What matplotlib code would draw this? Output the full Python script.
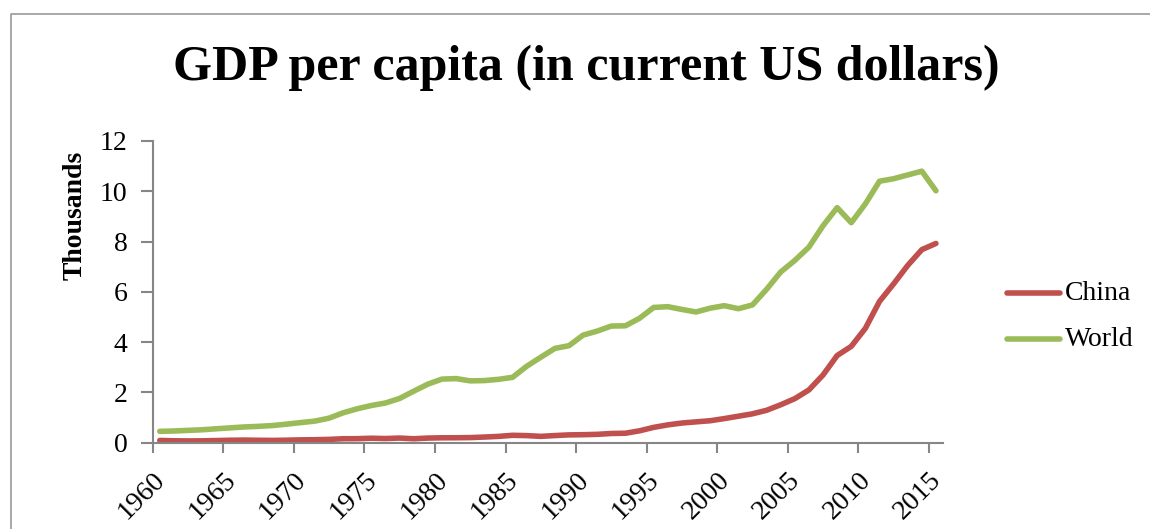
import matplotlib
matplotlib.use("Agg")
import matplotlib.pyplot as plt
from matplotlib.lines import Line2D
import numpy as np

years = list(range(1960, 2016))
china = [90, 76, 70, 74, 85, 98, 104, 97, 91, 100,
         113, 119, 132, 157, 160, 178, 165, 185, 156, 184,
         195, 197, 203, 225, 251, 294, 282, 252, 284, 311,
         318, 333, 366, 377, 473, 610, 709, 782, 829, 873,
         959, 1053, 1149, 1289, 1509, 1753, 2099, 2694, 3468, 3832,
         4550, 5618, 6317, 7051, 7679, 7925]
world = [452, 466, 490, 514, 554, 590, 627, 650, 683, 739,
         800, 860, 977, 1190, 1350, 1480, 1580, 1760, 2050, 2330,
         2530, 2550, 2460, 2470, 2520, 2600, 3040, 3400, 3750, 3860,
         4280, 4440, 4640, 4650, 4950, 5380, 5410, 5300, 5200, 5350,
         5450, 5330, 5480, 6100, 6790, 7250, 7780, 8630, 9350, 8750,
         9500, 10400, 10500, 10650, 10800, 10020]
tick_years = list(range(1960, 2016, 5))
y_ticks = [0, 2, 4, 6, 8, 10, 12]

title = "GDP per capita (in current US dollars)"
ylabel = "Thousands"
series_names = ["China", "World"]
colors = ["#C0504D", "#9BBB59"]

W, H = 1150, 529
fig = plt.figure(figsize=(W / 100, H / 100), dpi=100)
serif = ["Liberation Serif", "DejaVu Serif"]
fs = 20

ax = fig.add_axes([152.7 / W, 1 - 442.7 / H, (943 - 152.7) / W, (442.7 - 141) / H])

x = np.arange(len(years)) + 0.5
ax.plot(x, np.array(china) / 1000, color=colors[0], lw=4.0, solid_capstyle="round", solid_joinstyle="round", label=series_names[0])
ax.plot(x, np.array(world) / 1000, color=colors[1], lw=4.0, solid_capstyle="round", solid_joinstyle="round", label=series_names[1])

ax.set_xlim(0, len(years))
ax.set_ylim(0, 12)
ax.set_yticks(y_ticks)
ax.set_yticklabels([str(v) for v in y_ticks], fontsize=fs, family=serif)
tpos = [years.index(t) for t in tick_years]
ax.set_xticks(tpos)
ax.set_xticklabels([str(t) for t in tick_years], rotation=45, ha="right", va="top",
                   rotation_mode="anchor", fontsize=fs, family=serif)
for s in ["top", "right"]:
    ax.spines[s].set_visible(False)
for s in ["left", "bottom"]:
    ax.spines[s].set_color("#868686")
    ax.spines[s].set_linewidth(1.5)
ax.tick_params(axis="both", direction="out", color="#868686", width=1.5)
ax.tick_params(axis="y", length=9, pad=9)
ax.tick_params(axis="x", length=7, pad=11)

fig.text(75 / W, 1 - 215 / H, ylabel, rotation=90, ha="center", va="center",
         fontsize=fs, fontweight="bold", family=serif)
fig.text(586 / W, 1 - 68 / H, title, ha="center", va="center",
         fontsize=36, fontweight="bold", family=serif)

# legend
for i, (name, c) in enumerate(zip(series_names, colors)):
    yy = 1 - (293 + 46 * i) / H
    fig.add_artist(Line2D([1007 / W, 1060 / W], [yy, yy], color=c, lw=4.0,
                          solid_capstyle="round", transform=fig.transFigure))
    fig.text(1065 / W, yy, name, ha="left", va="center", fontsize=fs, family=serif)

# outer border (top and left visible)
fig.add_artist(Line2D([11 / W, 11 / W, 1.01], [-0.01, 1 - 14 / H, 1 - 14 / H],
                      color="#9a9a9a", lw=1.2, transform=fig.transFigure))

fig.savefig("out.png", dpi=100)
